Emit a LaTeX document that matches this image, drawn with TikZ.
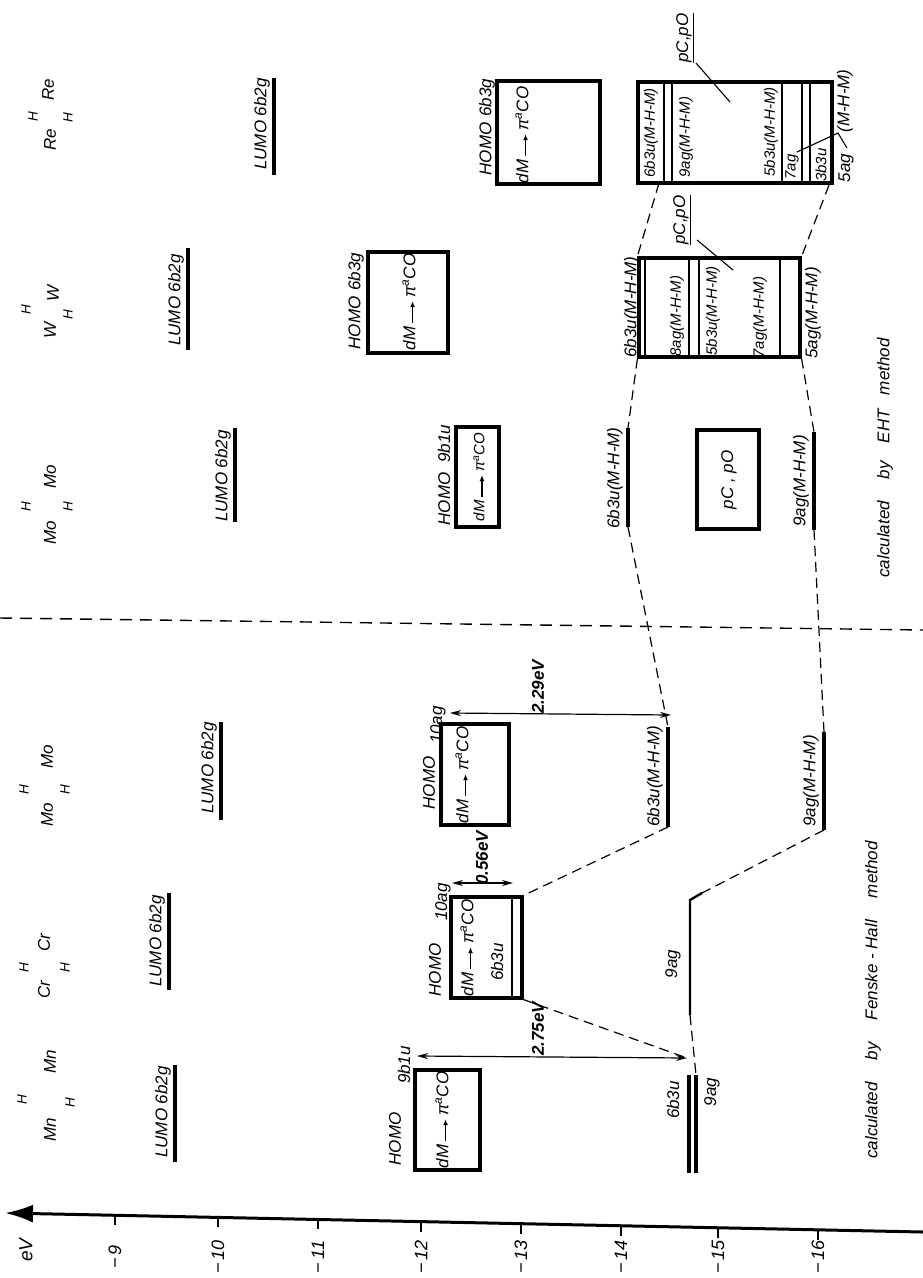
\documentclass[tikz,border=0pt]{standalone}
\usepackage{fontspec}
\setmainfont{Liberation Sans}
\usetikzlibrary{arrows.meta}
\newcommand\hf{\fontsize{17}{18}\selectfont\itshape}
\newcommand\hfs{\fontsize{15}{16}\selectfont\itshape}
\newcommand\hfh{\fontsize{13.5}{14}\selectfont\itshape}
\newcommand\dmpi{dM\,\raisebox{0.3ex}{\tikz[baseline=0pt]\draw[line width=1.4pt,-{Latex[length=6pt,width=5pt]}](0pt,0pt)--(22pt,0pt);}\,π\textsuperscript{a}CO}
\begin{document}
\begin{tikzpicture}[x=1pt,y=-1pt,
  lvl/.style={line width=3.2pt},
  inl/.style={line width=2.6pt},
  bx/.style={draw,rectangle,line width=3.2pt,inner sep=0pt},
  dsh/.style={line width=1.2pt,dash pattern=on 10pt off 6pt},
  t/.style={rotate=90,font=\hf,inner sep=0pt},
  ts/.style={rotate=90,font=\hfs,inner sep=0pt},
  th/.style={rotate=90,font=\hfh,inner sep=0pt},
  tb/.style={rotate=90,font=\hf\bfseries,inner sep=0pt},
  dimarrow/.style={{Stealth[length=11pt,width=6pt]}-{Stealth[length=11pt,width=6pt]},line width=1.2pt},
  lead/.style={line width=1.1pt}]
\useasboundingbox (0,0) rectangle (923,1278);
\fill[white] (0,0) rectangle (923,1278);

% ---------- energy axis ----------
\coordinate (axR) at (923,1232);
\coordinate (axL) at (5,1213);
\draw[line width=3pt,-{Latex[length=28pt,width=18pt]}] (axR) -- (axL);
\foreach \v/\xx in {9/115,10/218,11/318,12/421,13/521,14/621,15/718,16/818}{
  \pgfmathsetmacro{\yy}{1213+(\xx-5)*19/918}
  \draw[line width=2pt] (\xx,\yy) -- (\xx,\yy+10);
  \node[t,font=\fontsize{18}{19}\selectfont\itshape] (tk\v) at (\xx,1257) {−\,\v};
}
\node[t,font=\fontsize{19}{20}\selectfont\itshape] (eV) at (26,1250) {eV};

% ---------- divider ----------
\coordinate (dvL) at (0,618);
\coordinate (dvR) at (923,630);
\draw[line width=1.4pt,dash pattern=on 12pt off 8pt] (dvL) -- (dvR);

% ---------- captions ----------
\node[t] (capEHT) at (885,458) {calculated\hspace{22pt}by\hspace{18pt}EHT\hspace{14pt}method};
\node[t] (capFH) at (873,1000) {calculated\hspace{22pt}by\hspace{22pt}Fenske - Hall\hspace{22pt}method};

% ---------- molecule labels ----------
\node[t] (mnA) at (50,1130) {Mn};
\node[th] (mnB) at (22,1100) {H};
\node[th] (mnC) at (70,1103) {H};
\node[t] (mnD) at (50,1062) {Mn};
\node[t] (crA) at (44,990) {Cr};
\node[th] (crB) at (24,968) {H};
\node[th] (crC) at (65,968) {H};
\node[t] (crD) at (44,943) {Cr};
\node[t] (mfA) at (47,815) {Mo};
\node[th] (mfB) at (24,790) {H};
\node[th] (mfC) at (65,790) {H};
\node[t] (mfD) at (47,757) {Mo};
\node[t] (meA) at (50,533) {Mo};
\node[th] (meB) at (26,507) {H};
\node[th] (meC) at (68,507) {H};
\node[t] (meD) at (50,477) {Mo};
\node[t] (wA) at (50,330) {W};
\node[th] (wB) at (26,310) {H};
\node[th] (wC) at (68,315) {H};
\node[t] (wD) at (53,293) {W};
\node[t] (reA) at (50,140) {Re};
\node[th] (reB) at (33,117) {H};
\node[th] (reC) at (68,118) {H};
\node[t] (reD) at (48,90) {Re};

% ---------- LUMO levels ----------
\coordinate (MnLa) at (175,1065); \coordinate (MnLb) at (175,1162);
\coordinate (CrLa) at (169,893);  \coordinate (CrLb) at (169,990);
\coordinate (MfLa) at (221,722);  \coordinate (MfLb) at (221,820);
\coordinate (MeLa) at (235,428);  \coordinate (MeLb) at (235,522);
\coordinate (WLa) at (188,248);   \coordinate (WLb) at (188,350);
\coordinate (ReLa) at (274,78);   \coordinate (ReLb) at (274,175);
\draw[lvl] (MnLa) -- (MnLb);
\draw[lvl] (CrLa) -- (CrLb);
\draw[lvl] (MfLa) -- (MfLb);
\draw[lvl] (MeLa) -- (MeLb);
\draw[lvl] (WLa) -- (WLb);
\draw[lvl] (ReLa) -- (ReLb);
\node[t] (MnLt) at (163,1112) {LUMO 6b2g};
\node[t] (CrLt) at (157,941) {LUMO 6b2g};
\node[t] (MfLt) at (209,768) {LUMO 6b2g};
\node[t] (MeLt) at (223,476) {LUMO 6b2g};
\node[t] (WLt) at (176,300) {LUMO 6b2g};
\node[t] (ReLt) at (262,124) {LUMO 6b2g};

% ---------- HOMO boxes ----------
\node[bx,minimum width=65,minimum height=100] (MnH) at (447.5,1120) {};
\node[bx,minimum width=71,minimum height=101] (CrH) at (486.5,947.5) {};
\node[bx,minimum width=68,minimum height=101] (MfH) at (475,774.5) {};
\node[bx,minimum width=43,minimum height=100] (MeH) at (477.5,477) {};
\node[bx,minimum width=80,minimum height=101] (WH) at (408,302.5) {};
\node[bx,minimum width=103,minimum height=103] (ReH) at (548.5,132.5) {};
\draw[inl] (512,899) -- (512,996);

\node[t] (MnHt) at (442,1120) {\dmpi};
\node[t] (CrHt) at (467,948) {\dmpi};
\node[t] (CrHu) at (497,962) {6b3u};
\node[t] (MfHt) at (462,775) {\dmpi};
\node[ts] (MeHt) at (479,477) {\dmpi};
\node[t] (WHt) at (409,302) {\dmpi};
\node[t] (ReHt) at (522,135) {\dmpi};

\node[t] (MnHa) at (395,1139) {HOMO};
\node[t] (MnHb) at (404,1065) {9b1u};
\node[t] (CrHa) at (435,970) {HOMO};
\node[t] (CrHb) at (443,902) {10ag};
\node[t] (MfHa) at (429,783) {HOMO};
\node[t] (MfHb) at (438,725) {10ag};
\node[t] (MeHa) at (444,475) {HOMO\hspace{10pt}9b1u};
\node[t] (WHa) at (356,301) {HOMO\hspace{6pt}6b3g};
\node[t] (ReHa) at (487,127) {HOMO\hspace{6pt}6b3g};

% ---------- M-H-M levels (Fenske-Hall) ----------
\coordinate (Mn6a) at (689,1075); \coordinate (Mn6b) at (689,1173);
\coordinate (Mn9a) at (696,1075); \coordinate (Mn9b) at (696,1173);
\coordinate (Cr9k) at (702,893);
\coordinate (Cr9a) at (690,900);  \coordinate (Cr9b) at (690,1015);
\coordinate (Mf6a) at (668,727);  \coordinate (Mf6b) at (668,827);
\coordinate (Mf9a) at (824,732);  \coordinate (Mf9b) at (824,830);
\draw[lvl] (Mn6a) -- (Mn6b);
\draw[lvl] (Mn9a) -- (Mn9b);
\draw[line width=2.4pt] (Cr9k) -- (Cr9a) -- (Cr9b);
\draw[lvl] (Mf6a) -- (Mf6b);
\draw[lvl] (Mf9a) -- (Mf9b);
\node[t] (Mn6t) at (673,1100) {6b3u};
\node[t] (Mn9t) at (712,1092) {9ag};
\node[t] (Cr9t) at (673,964) {9ag};
\node[t] (Mf6t) at (655,776) {6b3u(M-H-M)};
\node[t] (Mf9t) at (811,781) {9ag(M-H-M)};

% ---------- EHT Mo ----------
\coordinate (Me6a) at (628,428); \coordinate (Me6b) at (628,527);
\coordinate (Me9a) at (814,432); \coordinate (Me9b) at (814,530);
\draw[lvl] (Me6a) -- (Me6b);
\draw[lvl] (Me9a) -- (Me9b);
\node[bx,minimum width=62,minimum height=99] (MeP) at (728,479.5) {};
\node[t] (MePt) at (729,480) {pC , pO};
\node[t] (Me6t) at (615,478) {6b3u(M-H-M)};
\node[t] (Me9t) at (801,481) {9ag(M-H-M)};

% ---------- EHT W ----------
\node[bx,minimum width=161,minimum height=99] (WM) at (719.5,307.5) {};
\draw[inl] (645,258) -- (645,357);
\draw[inl] (689,258) -- (689,357);
\draw[inl] (699,258) -- (699,357);
\draw[inl] (780,258) -- (780,357);
\node[t] (WMa) at (632,307) {6b3u(M-H-M)};
\node[ts] (WMb) at (677,316) {8ag(M-H-M)};
\node[ts] (WMc) at (713,311) {5b3u(M-H-M)};
\node[ts] (WMd) at (760,317) {7ag(M-H-M)};
\node[t] (WMe) at (813,313) {5ag(M-H-M)};
\node[t] (WPt) at (682,220) {\underline{pC,pO}};
\coordinate (WPa) at (697,240);
\coordinate (WPb) at (733,270);
\draw[lead] (WPa) -- (WPb);

% ---------- EHT Re ----------
\node[bx,minimum width=194,minimum height=101] (ReM) at (735,132.5) {};
\draw[inl] (664,82) -- (664,183);
\draw[inl] (672,82) -- (672,183);
\draw[inl] (782,82) -- (782,183);
\draw[inl] (802,82) -- (802,183);
\draw[inl] (810,82) -- (810,183);
\node[ts] (ReMa) at (651,133) {6b3u(M-H-M)};
\node[ts] (ReMb) at (686,137) {9ag(M-H-M)};
\node[ts] (ReMc) at (771,132) {5b3u(M-H-M)};
\node[ts] (ReMd) at (792,167) {7ag};
\node[ts] (ReMe) at (821,165) {3b3u};
\node[t] (ReMf) at (845,101) {(M-H-M)};
\node[t] (ReMg) at (846,168) {5ag};
\coordinate (ReJ) at (838,133);
\coordinate (ReJ7) at (797,152);
\coordinate (ReJ5) at (847,148);
\draw[lead] (ReJ7) -- (ReJ) -- (ReJ5);
\node[t] (RePt) at (685,38) {\underline{pC,pO}};
\coordinate (RePa) at (696,63);
\coordinate (RePb) at (730,102);
\draw[lead] (RePa) -- (RePb);

% ---------- energy gap arrows ----------
\coordinate (g275a) at (417,1056); \coordinate (g275b) at (687,1058);
\coordinate (g056a) at (452,883);  \coordinate (g056b) at (513,883);
\coordinate (g229a) at (450,713);  \coordinate (g229b) at (671,715);
\draw[dimarrow] (g275a) -- (g275b);
\draw[dimarrow] (g056a) -- (g056b);
\draw[dimarrow] (g229a) -- (g229b);
\node[tb] (l275) at (538,1029) {2.75eV};
\node[tb] (l056) at (482,858) {0.56eV};
\node[tb] (l229) at (538,687) {2.29eV};

% ---------- correlation (dashed) lines ----------
\coordinate (ReMbl) at (659,183);
\coordinate (ReMbr) at (829,185);
\draw[dsh] (ReMbl) -- (WM.north west);
\draw[dsh] (ReMbr) -- (WM.north east);
\draw[dsh] (WM.south west) -- (Me6a);
\draw[dsh] (WM.south east) -- (Me9a);
\draw[dsh] (Me6b) -- (Mf6a);
\draw[dsh] (Me9b) -- (Mf9a);
\draw[dsh] (Mf6b) -- (CrH.north east);
\draw[dsh] (Mf9b) -- (Cr9k);
\draw[dsh] (CrH.south east) -- (g275b);
\draw[dsh] (Cr9b) -- (Mn9a);
\end{tikzpicture}
\end{document}
